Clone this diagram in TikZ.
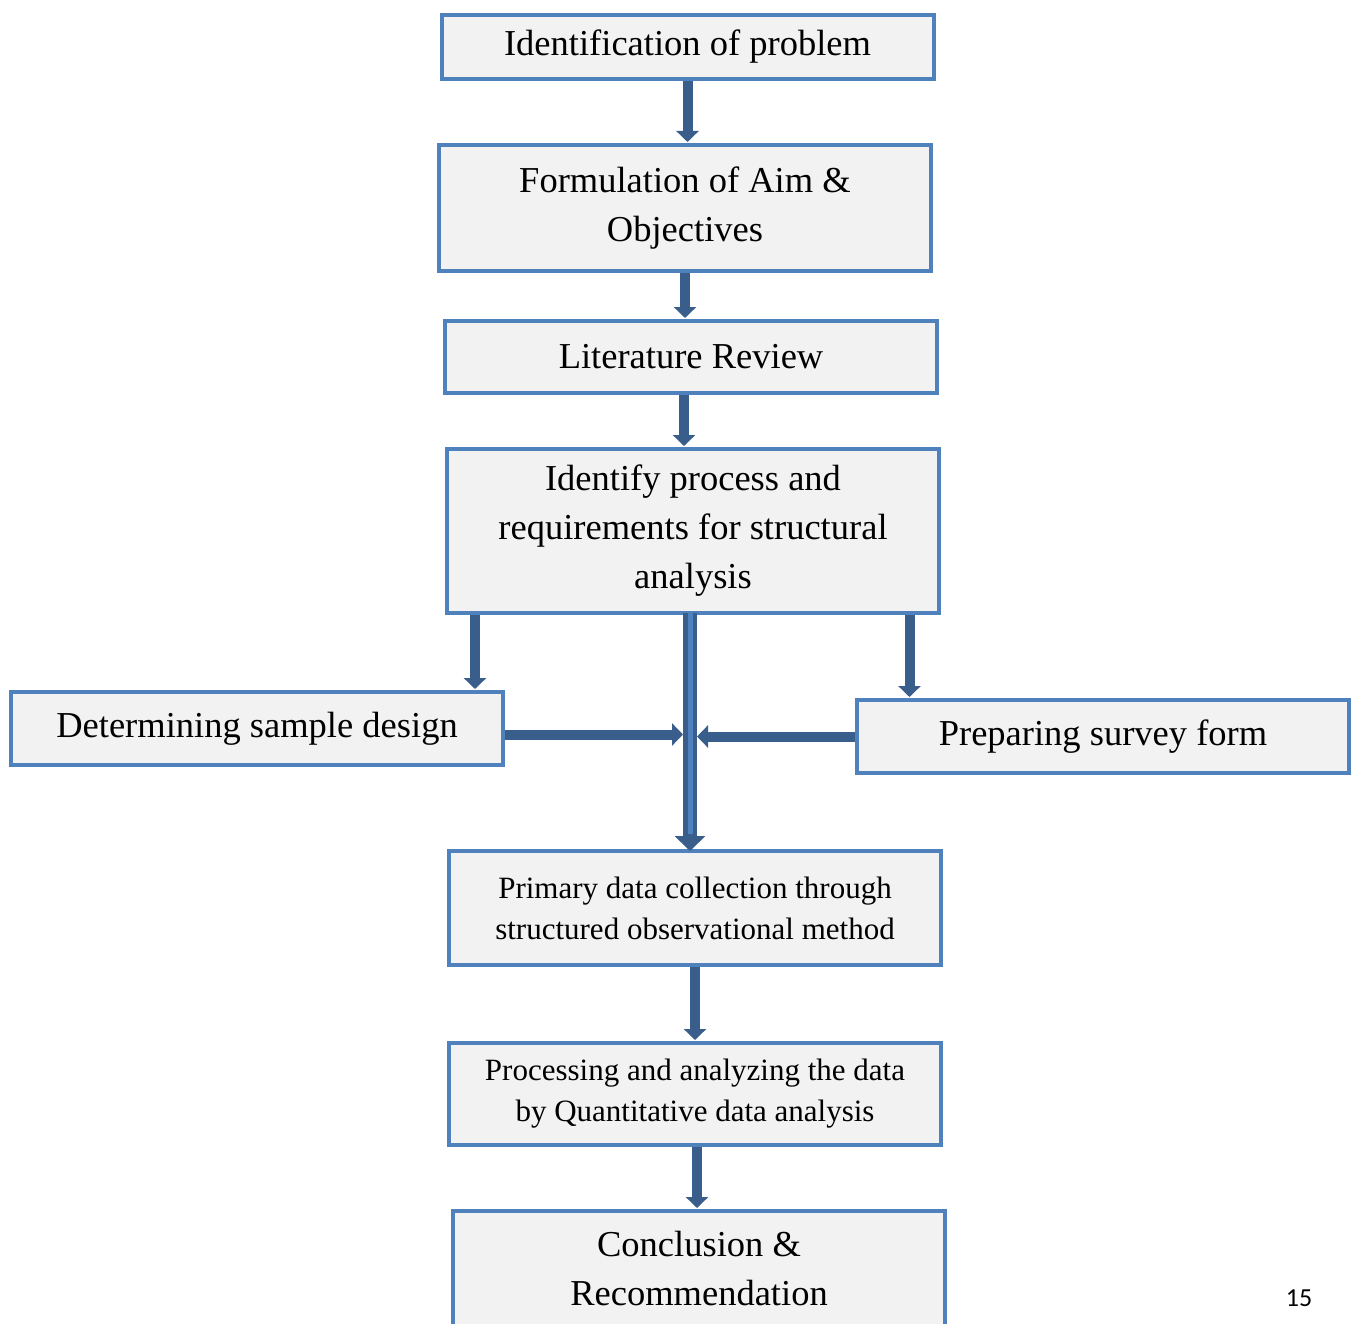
\documentclass[tikz,border=0pt]{standalone}
\usepackage{fontspec}
\setmainfont{Liberation Serif}
\newfontfamily\pagefont{Carlito}
\usetikzlibrary{arrows.meta}

\definecolor{boxblue}{RGB}{79,129,189}
\definecolor{boxgray}{RGB}{242,242,242}
\definecolor{arrowdark}{RGB}{58,94,140}

\newcommand{\bigtxt}{\fontsize{36.5}{49}\selectfont}
\newcommand{\smalltxt}{\fontsize{31}{41}\selectfont}

\tikzset{
    stagebox/.style={draw=boxblue, fill=boxgray, line width=4pt, minimum width=492pt,
        inner sep=0pt, align=center, font=\bigtxt},
    flow/.style={arrowdark, line width=10pt, -{Triangle[width=22pt,length=11pt]}, shorten >=1pt},
    trunk/.style={arrowdark, line width=14pt, -{Triangle[width=30pt,length=15pt]}, shorten >=-2pt},
    trunkcore/.style={boxblue, line width=5pt, shorten >=15pt}
}

\begin{document}
\begin{tikzpicture}[x=1pt, y=-1pt]
    % Fix the page to the size of the figure
    \useasboundingbox (0,0) rectangle (1351,1324);

    % Main column of stages
    \node[stagebox, minimum height=64pt]  (ident)    at (687.5,47)   {Identification of problem};
    \node[stagebox, minimum height=126pt] (aims)     at (685,208)    {Formulation of Aim \&\\Objectives};
    \node[stagebox, minimum height=72pt]  (lit)      at (691,357)    {Literature Review};
    \node[stagebox, minimum height=164pt] (reqs)     at (693,531)    {Identify process and\\requirements for structural\\analysis};

    % Side stages
    \node[stagebox, minimum height=73pt]  (sample)   at (257,728.5)  {Determining sample design};
    \node[stagebox, minimum height=73pt]  (survey)   at (1103,736.5) {Preparing survey form};

    % Lower stages
    \node[stagebox, minimum height=114pt, font=\smalltxt] (primary)  at (695,908)  {Primary data collection through\\structured observational method};
    \node[stagebox, minimum height=102pt, font=\smalltxt] (analysis) at (695,1094) {Processing and analyzing the data\\by Quantitative data analysis};
    \node[stagebox, minimum height=124pt, text depth=10pt] (concl) at (699,1273) {Conclusion \&\\Recommendation};

    % Arrows down the column
    \draw[flow] (ident.south) -- (ident.south |- aims.north);
    \draw[flow] (aims.south) -- (aims.south |- lit.north);
    \draw[flow] ([xshift=-7pt]lit.south) -- ([xshift=-7pt]lit.south |- reqs.north);

    % Branches to the side stages
    \draw[flow] ([xshift=30pt]reqs.south west) -- ([xshift=30pt]reqs.south west |- sample.north);
    \draw[flow] ([xshift=-31.5pt]reqs.south east) -- ([xshift=-31.5pt]reqs.south east |- survey.north);

    % Central trunk
    \draw[trunk] ([shift={(-3pt,2pt)}]reqs.south) -- ([xshift=-3pt]reqs.south |- primary.north);
    \draw[trunkcore] ([shift={(-3pt,2pt)}]reqs.south) -- ([xshift=-3pt]reqs.south |- primary.north);

    % Side stages feed into the trunk
    \draw[flow, shorten >=7pt] ([yshift=-6pt]sample.east) -- ([shift={(-3pt,-6pt)}]reqs.south |- sample.east);
    \draw[flow, shorten >=7pt] (survey.west) -- ([xshift=-3pt]reqs.south |- survey.west);

    \draw[flow] (primary.south) -- (primary.south |- analysis.north);
    \draw[flow] ([xshift=2pt]analysis.south) -- ([xshift=2pt]analysis.south |- concl.north);

    % Page number
    \node[font=\pagefont\fontsize{26}{30}\selectfont] (pagenum) at (1299,1298) {15};
\end{tikzpicture}
\end{document}
